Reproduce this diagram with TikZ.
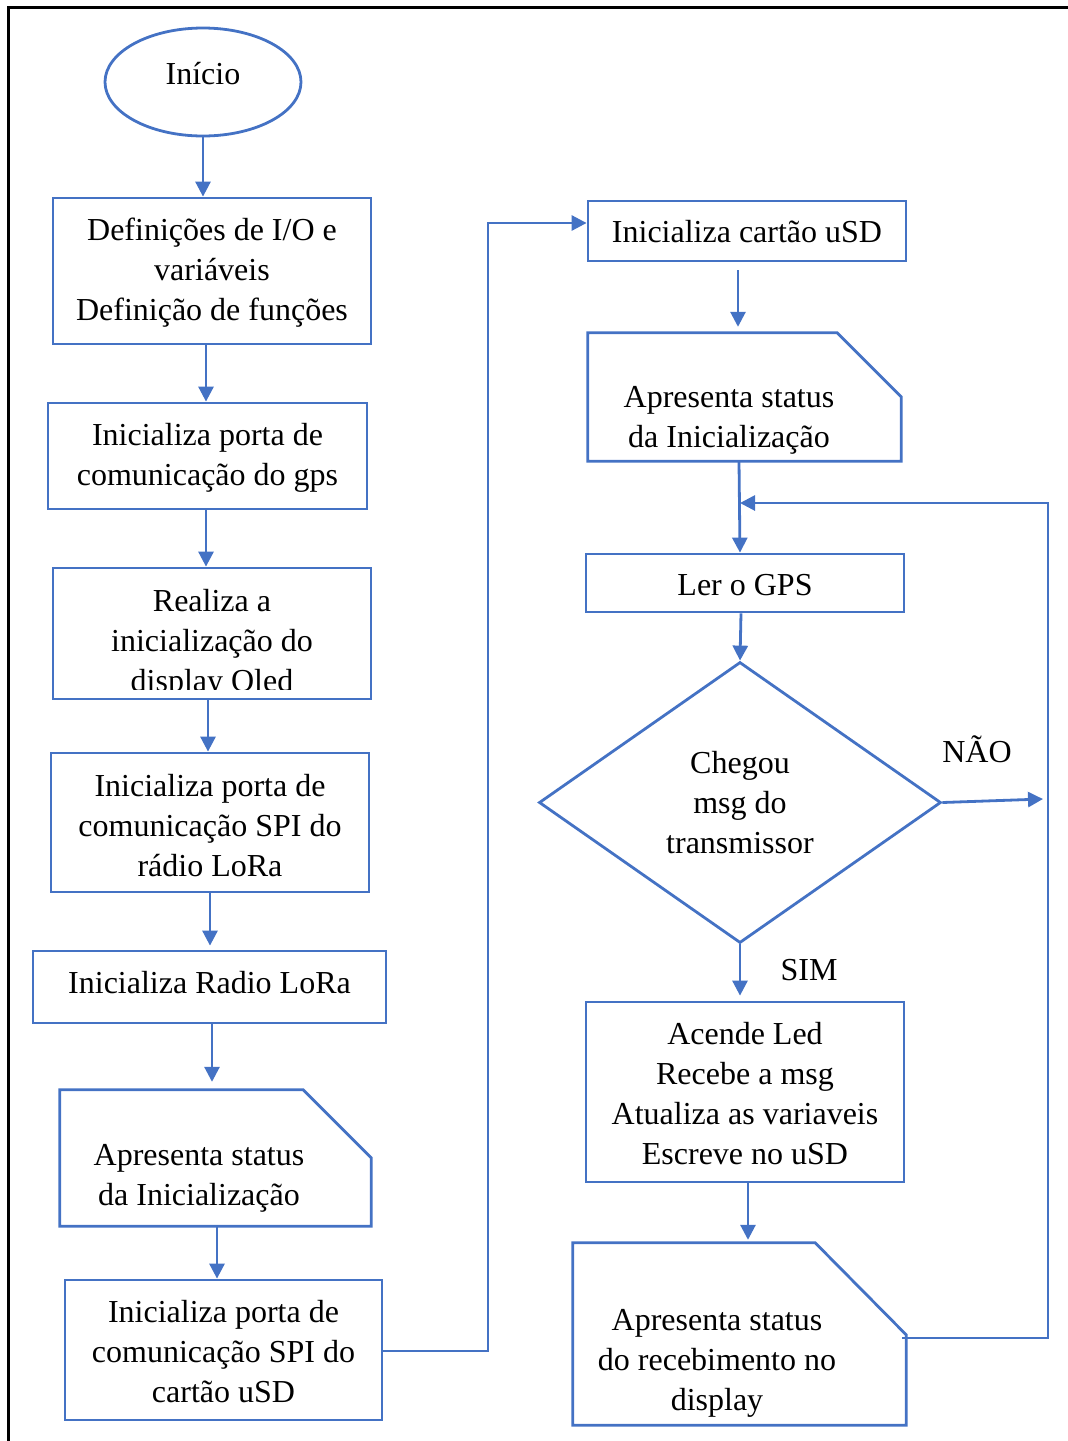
\documentclass[tikz,border=0pt]{standalone}
\usepackage{fontspec}
\setmainfont{Liberation Serif}
\usetikzlibrary{shapes.geometric,arrows.meta,calc}
\definecolor{fblue}{HTML}{4472C4}
\begin{document}
\begin{tikzpicture}[x=1pt,y=-1pt,
  txt/.style={font=\fontsize{32}{40}\selectfont,align=center,inner sep=0pt},
  box/.style={draw=fblue,line width=2.8pt,inner sep=0pt},
  shp/.style={draw=fblue,line width=2.8pt},
  arr/.style={draw=fblue,line width=2.8pt,-{Triangle[length=15pt,width=15pt]}}]
\useasboundingbox (0,0) rectangle (1068,1441);
\draw[line width=3pt] (8,1441) -- (8,7) -- (1068,7);

% left column
\node[box,ellipse,minimum width=196pt,minimum height=108pt] (ini) at (203,82) {};
\node[txt] (init) at ($(ini)+(0,-8)$) {Início};
\node[box,minimum width=318pt,minimum height=146pt] (b1) at (212,271) {};
\node[txt] (b1t) at ($(b1)+(0,2)$) {Definições de I/O e\\variáveis\\Definição de funções};
\node[box,minimum width=319pt,minimum height=106pt] (b2) at (207.5,456) {};
\node[txt] (b2t) at ($(b2)+(0,2)$) {Inicializa porta de\\comunicação do gps};
\begin{scope}
\clip (54,570) rectangle (370,689);
\node[txt] (b3t) at (212,644) {Realiza a\\inicialização do\\display Oled};
\end{scope}
\node[box,minimum width=318pt,minimum height=131pt] (b3) at (212,633.5) {};
\node[box,minimum width=318pt,minimum height=139pt] (b4) at (210,822.5) {};
\node[txt] (b4t) at ($(b4)+(0,3)$) {Inicializa porta de\\comunicação SPI do\\rádio LoRa};
\node[box,minimum width=353pt,minimum height=72pt] (b5) at (209.5,987) {};
\node[txt] (b5t) at ($(b5)+(0,-4)$) {Inicializa Radio LoRa};
\node[inner sep=0pt,minimum width=311pt,minimum height=136pt] (c1) at (215.5,1158) {};
\draw[shp] (c1.south west) -- (c1.north west) -- ([xshift=-68pt]c1.north east) -- ([yshift=-68pt]c1.north east) -- (c1.south east) -- cycle;
\node[txt] (c1t) at (199,1178) {Apresenta status\\da Inicialização};
\node[box,minimum width=317pt,minimum height=140pt] (b6) at (223.5,1350) {};
\node[txt] (b6t) at ($(b6)+(0,2)$) {Inicializa porta de\\comunicação SPI do\\cartão uSD};

% right column
\node[box,minimum width=318pt,minimum height=60pt] (b7) at (747,231) {};
\node[txt] (b7t) at ($(b7)+(0,1)$) {Inicializa cartão uSD};
\node[inner sep=0pt,minimum width=313pt,minimum height=128pt] (c2) at (744.5,397) {};
\draw[shp] (c2.south west) -- (c2.north west) -- ([xshift=-64pt]c2.north east) -- ([yshift=-64pt]c2.north east) -- (c2.south east) -- cycle;
\node[txt] (c2t) at (729,420) {Apresenta status\\da Inicialização};
\node[box,minimum width=318pt,minimum height=58pt] (b8) at (745,583) {};
\node[txt] (b8t) at ($(b8)+(0,2)$) {Ler o GPS};
\node[box,diamond,minimum width=402pt,minimum height=281pt] (d) at (740,802.5) {};
\node[txt] (dt) at (d) {Chegou\\msg do\\transmissor};
\node[box,minimum width=318pt,minimum height=180pt] (b9) at (745,1092) {};
\node[txt] (b9t) at ($(b9)+(0,2)$) {Acende Led\\Recebe a msg\\Atualiza as variaveis\\Escreve no uSD};
\node[inner sep=0pt,minimum width=333pt,minimum height=182pt] (c3) at (739.5,1334) {};
\draw[shp] (c3.south west) -- (c3.north west) -- ([xshift=-91pt]c3.north east) -- ([yshift=-92pt]c3.north east) -- (c3.south east) -- cycle;
\node[txt] (c3t) at (717,1363) {Apresenta status\\do recebimento no\\display};

\node[txt] (nao) at (977,749) {NÃO};
\node[txt] (sim) at (809,970) {SIM};

% connectors
\draw[arr] (ini.south) -- (ini.south |- b1.north);
\draw[arr] (b1.south -| 206,0) -- (b2.north -| 206,0);
\draw[arr] (b2.south -| 206,0) -- (b3.north -| 206,0);
\draw[arr] (b3.south -| 208,0) -- (b4.north -| 208,0);
\draw[arr] (b4.south -| 210,0) -- ($(b5.north -| 210,0)+(0,-4)$);
\draw[arr] (b5.south -| 212,0) -- ($(c1.north -| 212,0)+(0,-8)$);
\draw[arr] (c1.south -| 217,0) -- (b6.north -| 217,0);
\coordinate (j1) at (488,1351);
\coordinate (j2) at (488,223);
\draw[arr] (b6.east |- j1) -- (j1) -- (j2) -- (b7.west |- j2);
\draw[arr] ($(b7.south -| 738,0)+(0,8)$) -- ($(c2.north -| 738,0)+(0,-6)$);
\draw[arr] (c2.south -| 739,0) -- (b8.north -| 740,0);
\draw[arr] (b8.south -| 741,0) -- (d.north);
\coordinate (naoEnd) at (1043,799);
\draw[arr] (d.east) -- (naoEnd);
\draw[arr] (d.south) -- ($(b9.north -| d.south)+(0,-5)$);
\draw[arr] (b9.south -| 748,0) -- ($(c3.north -| 748,0)+(0,-3)$);
\coordinate (l1) at (1048,1338);
\coordinate (l2) at (1048,503);
\draw[arr] ($(c3.east |- l1)+(-4,0)$) -- (l1) -- (l2) -- (740,503);
\end{tikzpicture}
\end{document}
